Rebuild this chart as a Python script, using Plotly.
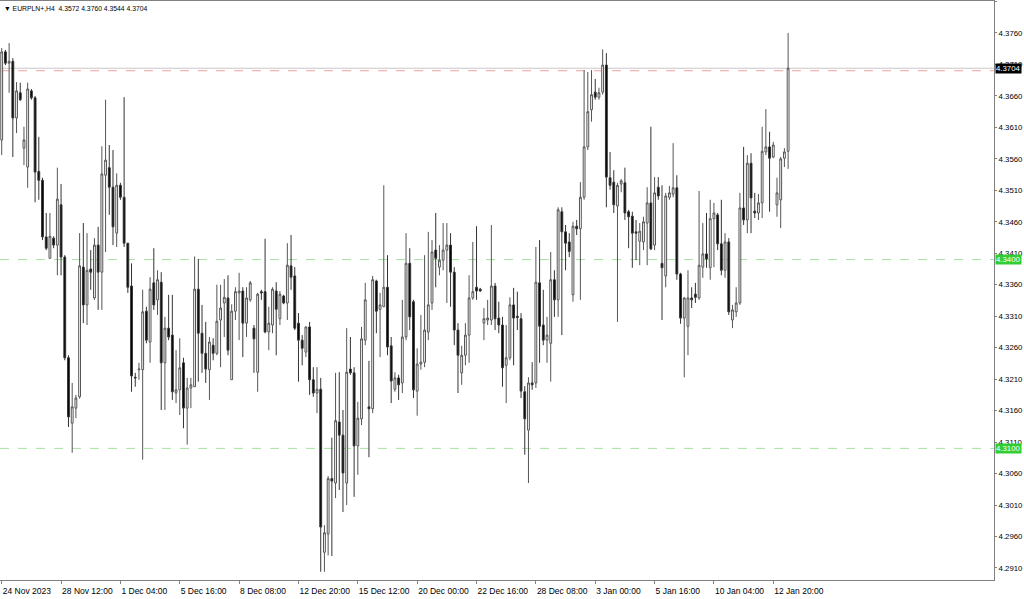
import plotly.graph_objects as go

# ---- data (EURPLN+, H4) ----
opens = [4.3590,4.3730,4.3712,4.3715,4.3625,4.3665,4.3577,4.3547,4.3668,4.3657,
         4.3540,4.3526,4.3436,4.3402,4.3434,4.3423,4.3487,4.3404,4.3244,4.3140,
         4.3164,4.3182,4.3388,4.3328,4.3385,4.3339,4.3423,4.3380,4.3534,4.3546,
         4.3515,4.3442,4.3518,4.3499,4.3426,4.3358,4.3213,4.3225,4.3225,4.3318,
         4.3269,4.3363,4.3336,4.3364,4.3236,4.3291,4.3280,4.3188,4.3193,4.3236,
         4.3164,4.3196,4.3198,4.3353,4.3283,4.3251,4.3225,4.3264,4.3251,4.3304,
         4.3331,4.3339,4.3209,4.3318,4.3347,4.3350,4.3299,4.3336,4.3291,4.3221,
         4.3349,4.3349,4.3285,4.3296,4.3350,4.3306,4.3342,4.3331,4.3390,4.3374,
         4.3299,4.3272,4.3253,4.3293,4.3209,4.3188,4.3194,4.2935,4.2964,4.3052,
         4.3045,4.3142,4.3121,4.3045,4.3226,4.3220,4.3104,4.3147,4.3272,4.3166,
         4.3163,4.3366,4.3321,4.3325,4.3356,4.3263,4.3194,4.3212,4.3204,4.3277,
         4.3394,4.3333,4.3191,4.3234,4.3237,4.3285,4.3331,4.3415,4.3388,4.3399,
         4.3415,4.3423,4.3380,4.3288,4.3220,4.3248,4.3280,4.3339,4.3356,4.3353,
         4.3299,4.3304,4.3304,4.3358,4.3307,4.3296,4.3232,4.3244,4.3328,4.3310,
         4.3306,4.3190,4.3129,4.3204,4.3204,4.3363,4.3296,4.3272,4.3267,4.3368,
         4.3336,4.3476,4.3444,4.3428,4.3344,4.3453,4.3449,4.3499,4.3579,4.3638,
         4.3666,4.3658,4.3666,4.3709,4.3530,4.3523,4.3485,4.3520,4.3522,4.3476,
         4.3469,4.3444,4.3429,4.3428,4.3458,4.3490,4.3423,4.3515,4.3394,4.3374,
         4.3499,4.3504,4.3514,4.3377,4.3307,4.3294,4.3339,4.3345,4.3339,4.3388,
         4.3409,4.3387,4.3465,4.3471,4.3425,4.3383,4.3428,4.3304,4.3317,4.3331,
         4.3482,4.3463,4.3553,4.3477,4.3474,4.3490,4.3571,4.3579,4.3563,4.3487,
         4.3495,4.3561,4.3572]
highs = [4.3736,4.3733,4.3744,4.3720,4.3682,4.3681,4.3611,4.3681,4.3671,4.3660,
         4.3595,4.3530,4.3474,4.3474,4.3437,4.3546,4.3520,4.3407,4.3248,4.3204,
         4.3185,4.3442,4.3458,4.3442,4.3415,4.3434,4.3452,4.3580,4.3654,4.3582,
         4.3574,4.3537,4.3522,4.3658,4.3426,4.3394,4.3220,4.3236,4.3352,4.3325,
         4.3372,4.3418,4.3383,4.3380,4.3309,4.3344,4.3344,4.3256,4.3275,4.3244,
         4.3212,4.3212,4.3405,4.3401,4.3328,4.3301,4.3277,4.3275,4.3360,4.3360,
         4.3369,4.3375,4.3329,4.3356,4.3379,4.3356,4.3356,4.3366,4.3296,4.3347,
         4.3352,4.3433,4.3325,4.3356,4.3364,4.3350,4.3344,4.3426,4.3439,4.3388,
         4.3315,4.3280,4.3293,4.3301,4.3229,4.3229,4.3212,4.2978,4.3056,4.3117,
         4.3220,4.3221,4.3161,4.3291,4.3277,4.3229,4.3174,4.3293,4.3363,4.3239,
         4.3374,4.3368,4.3347,4.3518,4.3407,4.3277,4.3221,4.3217,4.3336,4.3442,
         4.3418,4.3336,4.3259,4.3312,4.3407,4.3444,4.3431,4.3474,4.3423,4.3458,
         4.3458,4.3442,4.3388,4.3299,4.3263,4.3299,4.3375,4.3428,4.3453,4.3355,
         4.3323,4.3336,4.3455,4.3363,4.3333,4.3309,4.3296,4.3340,4.3355,4.3349,
         4.3315,4.3199,4.3213,4.3237,4.3420,4.3431,4.3352,4.3309,4.3412,4.3383,
         4.3483,4.3483,4.3455,4.3442,4.3460,4.3463,4.3523,4.3701,4.3698,4.3701,
         4.3687,4.3673,4.3734,4.3728,4.3571,4.3542,4.3522,4.3528,4.3546,4.3479,
         4.3476,4.3463,4.3458,4.3468,4.3515,4.3611,4.3531,4.3531,4.3518,4.3506,
         4.3517,4.3585,4.3534,4.3379,4.3340,4.3383,4.3356,4.3363,4.3509,4.3458,
         4.3474,4.3495,4.3490,4.3474,4.3495,4.3442,4.3434,4.3328,4.3356,4.3506,
         4.3579,4.3566,4.3569,4.3506,4.3504,4.3611,4.3639,4.3603,4.3587,4.3530,
         4.3563,4.3577,4.3760]
lows = [4.3566,4.3709,4.3665,4.3563,4.3601,4.3652,4.3550,4.3514,4.3654,4.3491,
        4.3495,4.3431,4.3415,4.3402,4.3418,4.3375,4.3375,4.3240,4.3134,4.3093,
        4.3148,4.3179,4.3299,4.3296,4.3352,4.3336,4.3320,4.3320,4.3412,4.3471,
        4.3423,4.3420,4.3495,4.3420,4.3347,4.3190,4.3198,4.3209,4.3082,4.3267,
        4.3236,4.3320,4.3312,4.3161,4.3161,4.3272,4.3177,4.3172,4.3153,4.3132,
        4.3106,4.3164,4.3198,4.3206,4.3220,4.3204,4.3177,4.3240,4.3248,4.3229,
        4.3277,4.3248,4.3209,4.3304,4.3272,4.3245,4.3277,4.3333,4.3220,4.3190,
        4.3336,4.3283,4.3256,4.3283,4.3248,4.3296,4.3329,4.3304,4.3352,4.3288,
        4.3206,4.3232,4.3245,4.3185,4.3182,4.3156,4.2904,4.2904,4.2930,4.2929,
        4.3021,4.3034,4.2999,4.3010,4.3217,4.3023,4.3058,4.3137,4.3264,4.3086,
        4.3156,4.3283,4.3245,4.3325,4.3248,4.3172,4.3190,4.3177,4.3188,4.3272,
        4.3288,4.3180,4.3152,4.3225,4.3229,4.3272,4.3320,4.3356,4.3375,4.3383,
        4.3331,4.3325,4.3264,4.3188,4.3201,4.3232,4.3236,4.3336,4.3336,4.3349,
        4.3272,4.3296,4.3296,4.3288,4.3283,4.3198,4.3172,4.3240,4.3232,4.3288,
        4.3180,4.3090,4.3045,4.3193,4.3196,4.3236,4.3264,4.3236,4.3206,4.3309,
        4.3309,4.3280,4.3383,4.3404,4.3333,4.3439,4.3336,4.3495,4.3574,4.3619,
        4.3654,4.3654,4.3662,4.3483,4.3511,4.3474,4.3301,4.3507,4.3463,4.3418,
        4.3387,4.3399,4.3391,4.3415,4.3391,4.3415,4.3415,4.3495,4.3304,4.3356,
        4.3495,4.3499,4.3368,4.3298,4.3213,4.3248,4.3323,4.3331,4.3336,4.3371,
        4.3387,4.3368,4.3388,4.3415,4.3375,4.3371,4.3312,4.3291,4.3309,4.3328,
        4.3455,4.3442,4.3442,4.3466,4.3463,4.3466,4.3566,4.3476,4.3561,4.3468,
        4.3450,4.3547,4.3544]
closes = [4.3730,4.3712,4.3715,4.3625,4.3668,4.3654,4.3590,4.3671,4.3657,4.3539,
          4.3526,4.3436,4.3418,4.3437,4.3423,4.3496,4.3404,4.3244,4.3150,4.3166,
          4.3180,4.3390,4.3328,4.3383,4.3380,4.3423,4.3380,4.3536,4.3558,4.3515,
          4.3452,4.3518,4.3499,4.3426,4.3356,4.3215,4.3212,4.3226,4.3317,4.3272,
          4.3353,4.3328,4.3368,4.3236,4.3291,4.3277,4.3190,4.3193,4.3228,4.3164,
          4.3196,4.3201,4.3353,4.3283,4.3251,4.3226,4.3269,4.3251,4.3302,4.3323,
          4.3340,4.3256,4.3318,4.3349,4.3350,4.3299,4.3339,4.3363,4.3274,4.3345,
          4.3347,4.3285,4.3299,4.3353,4.3321,4.3345,4.3331,4.3391,4.3372,4.3291,
          4.3272,4.3259,4.3293,4.3209,4.3188,4.3194,4.2975,4.2966,4.3052,4.3048,
          4.3144,4.3121,4.3061,4.3221,4.3220,4.3104,4.3148,4.3274,4.3336,4.3163,
          4.3368,4.3318,4.3328,4.3356,4.3261,4.3207,4.3212,4.3201,4.3277,4.3394,
          4.3309,4.3193,4.3234,4.3237,4.3288,4.3328,4.3412,4.3402,4.3399,4.3415,
          4.3423,4.3380,4.3288,4.3248,4.3248,4.3280,4.3339,4.3349,4.3350,4.3350,
          4.3306,4.3307,4.3358,4.3306,4.3296,4.3228,4.3244,4.3328,4.3307,4.3308,
          4.3191,4.3147,4.3204,4.3201,4.3364,4.3294,4.3272,4.3280,4.3368,4.3336,
          4.3479,4.3444,4.3426,4.3413,4.3453,4.3449,4.3499,4.3579,4.3635,4.3662,
          4.3658,4.3665,4.3709,4.3531,4.3518,4.3487,4.3518,4.3525,4.3474,4.3468,
          4.3442,4.3442,4.3445,4.3460,4.3490,4.3417,4.3506,4.3501,4.3387,4.3501,
          4.3506,4.3514,4.3377,4.3307,4.3339,4.3339,4.3336,4.3340,4.3391,4.3409,
          4.3401,4.3465,4.3474,4.3425,4.3383,4.3428,4.3317,4.3320,4.3331,4.3482,
          4.3463,4.3553,4.3498,4.3474,4.3490,4.3572,4.3579,4.3561,4.3582,4.3506,
          4.3560,4.3571,4.3704]

tick_labels = ["24 Nov 2023", "28 Nov 12:00", "1 Dec 04:00", "5 Dec 16:00",
               "8 Dec 08:00", "12 Dec 20:00", "15 Dec 12:00", "20 Dec 00:00",
               "22 Dec 16:00", "28 Dec 08:00", "3 Jan 00:00", "5 Jan 16:00",
               "10 Jan 04:00", "12 Jan 20:00"]
bars_per_label = 16
price_ticks = [4.2910, 4.2960, 4.3010, 4.3060, 4.3110, 4.3160, 4.3210, 4.3260,
               4.3310, 4.3360, 4.3410, 4.3460, 4.3510, 4.3560, 4.3610, 4.3660,
               4.3710, 4.3760, 4.3810]
bid_price = 4.3704
red_level = 4.3700
green_levels = [4.3400, 4.3100]
title_text = "EURPLN+,H4  4.3572 4.3760 4.3544 4.3704"

x = list(range(len(opens)))
FONT = "Liberation Sans"
FS_Y = 7.8
FS_X = 8.5

fig = go.Figure()
fig.add_trace(go.Candlestick(
    x=x, open=opens, high=highs, low=lows, close=closes,
    increasing=dict(line=dict(color="#555555", width=1), fillcolor="#FFFFFF"),
    decreasing=dict(line=dict(color="#333333", width=1), fillcolor="#000000"),
    whiskerwidth=0, showlegend=False, hoverinfo="skip"))

# horizontal levels
fig.add_hline(y=bid_price, line=dict(color="#C8C8C8", width=1), layer="below")
fig.add_hline(y=red_level, line=dict(color="#F2A0A0", width=1, dash="dash"), layer="below")
for lv in green_levels:
    fig.add_hline(y=lv, line=dict(color="#A6E3A0", width=1, dash="dash"), layer="below")

# price labels on the axis
def price_box(val, bg):
    fig.add_annotation(x=1, xref="paper", xanchor="left", xshift=1,
                       y=val, yref="y", yanchor="middle",
                       text=f"{val:.4f}", showarrow=False,
                       font=dict(family=FONT, size=FS_Y, color="#FFFFFF"),
                       bgcolor=bg, borderpad=0)

price_box(bid_price, "#000000")
for lv in green_levels:
    price_box(lv, "#32CD32")

# title
fig.add_annotation(x=0, y=1, xref="paper", yref="paper", xanchor="left", yanchor="top",
                   xshift=2, yshift=-2, showarrow=False,
                   text="▼ " + title_text,
                   font=dict(family=FONT, size=6.8, color="#000000"))

tickvals = [i * bars_per_label for i in range(len(tick_labels))]

fig.update_layout(
    width=1024, height=599,
    margin=dict(l=0, r=30, t=1, b=19, autoexpand=False),
    paper_bgcolor="#FFFFFF", plot_bgcolor="#FFFFFF",
    font=dict(family=FONT, size=FS_Y, color="#000000"),
    xaxis=dict(range=[-0.46, 267.5], rangeslider=dict(visible=False),
               tickvals=tickvals, ticktext=tick_labels, tickangle=0,
               tickfont=dict(family=FONT, size=FS_X, color="#000000"),
               ticks="outside", ticklen=3, tickcolor="#808080",
               ticklabelposition="outside right", ticklabelstandoff=3,
               automargin=False,
               showline=True, linecolor="#808080", linewidth=1, mirror=True,
               showgrid=False, zeroline=False, fixedrange=True),
    yaxis=dict(side="right", range=[4.28909, 4.38108],
               tickvals=price_ticks, ticktext=[f"{v:.4f}" for v in price_ticks],
               tickfont=dict(family=FONT, size=FS_Y, color="#000000"),
               ticks="outside", ticklen=2, tickcolor="#808080",
               ticklabelstandoff=0, automargin=False,
               showline=True, linecolor="#808080", linewidth=1, mirror=False,
               showgrid=False, zeroline=False, fixedrange=True),
)

fig.write_html("out.html",
               config={"displayModeBar": False},
               post_script="document.body.style.margin='0';"
                           "document.body.style.overflow='hidden';")
